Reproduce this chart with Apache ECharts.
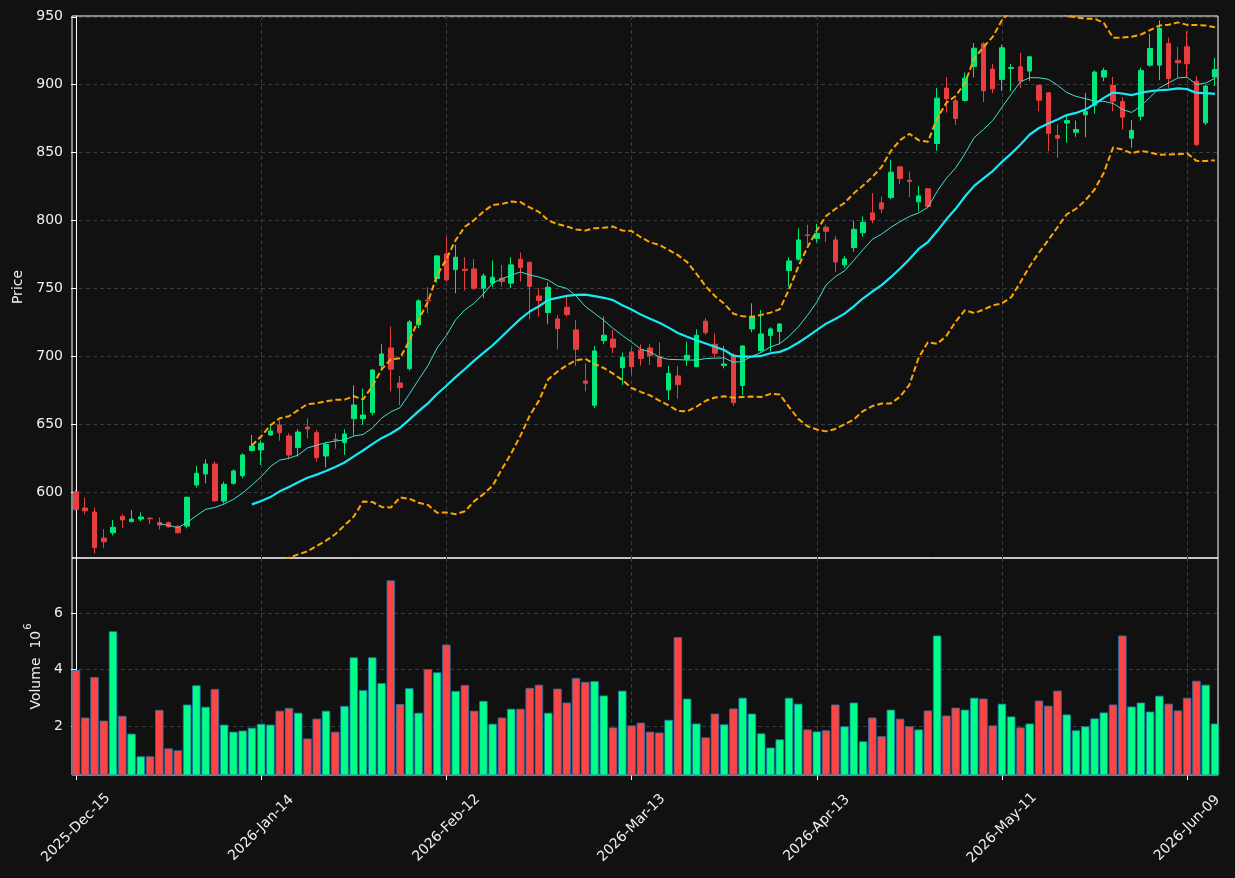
<!DOCTYPE html>
<html>
<head>
<meta charset="utf-8">
<script src="https://cdn.jsdelivr.net/npm/echarts@6/dist/echarts.min.js"></script>
<style>
  html, body { margin: 0; padding: 0; background: #111111; }
  #chart { width: 1235px; height: 878px; }
</style>
</head>
<body>
<div id="chart"></div>
<script>
// trading days shown on the x axis
const dates = [
  "2025-Dec-15","2025-Dec-16","2025-Dec-17","2025-Dec-18","2025-Dec-19","2025-Dec-22","2025-Dec-23","2025-Dec-24","2025-Dec-26",
  "2025-Dec-29","2025-Dec-30","2025-Dec-31","2026-Jan-02","2026-Jan-05","2026-Jan-06","2026-Jan-07","2026-Jan-08","2026-Jan-09",
  "2026-Jan-12","2026-Jan-13","2026-Jan-14","2026-Jan-15","2026-Jan-16","2026-Jan-20","2026-Jan-21","2026-Jan-22","2026-Jan-23",
  "2026-Jan-26","2026-Jan-27","2026-Jan-28","2026-Jan-29","2026-Jan-30","2026-Feb-02","2026-Feb-03","2026-Feb-04","2026-Feb-05",
  "2026-Feb-06","2026-Feb-09","2026-Feb-10","2026-Feb-11","2026-Feb-12","2026-Feb-13","2026-Feb-17","2026-Feb-18","2026-Feb-19",
  "2026-Feb-20","2026-Feb-23","2026-Feb-24","2026-Feb-25","2026-Feb-26","2026-Feb-27","2026-Mar-02","2026-Mar-03","2026-Mar-04",
  "2026-Mar-05","2026-Mar-06","2026-Mar-09","2026-Mar-10","2026-Mar-11","2026-Mar-12","2026-Mar-13","2026-Mar-16","2026-Mar-17",
  "2026-Mar-18","2026-Mar-19","2026-Mar-20","2026-Mar-23","2026-Mar-24","2026-Mar-25","2026-Mar-26","2026-Mar-27","2026-Mar-30",
  "2026-Mar-31","2026-Apr-01","2026-Apr-02","2026-Apr-06","2026-Apr-07","2026-Apr-08","2026-Apr-09","2026-Apr-10","2026-Apr-13",
  "2026-Apr-14","2026-Apr-15","2026-Apr-16","2026-Apr-17","2026-Apr-20","2026-Apr-21","2026-Apr-22","2026-Apr-23","2026-Apr-24",
  "2026-Apr-27","2026-Apr-28","2026-Apr-29","2026-Apr-30","2026-May-01","2026-May-04","2026-May-05","2026-May-06","2026-May-07",
  "2026-May-08","2026-May-11","2026-May-12","2026-May-13","2026-May-14","2026-May-15","2026-May-18","2026-May-19","2026-May-20",
  "2026-May-21","2026-May-22","2026-May-26","2026-May-27","2026-May-28","2026-May-29","2026-Jun-01","2026-Jun-02","2026-Jun-03",
  "2026-Jun-04","2026-Jun-05","2026-Jun-08","2026-Jun-09","2026-Jun-10","2026-Jun-11","2026-Jun-12"
];

const opens = [
  600.2,588.2,585.3,566.1,570.0,582.1,578.1,580.1,580.8,577.6,577.6,574.4,574.9,605.2,613.3,620.6,593.4,606.4,612.0,630.5,
  631.0,642.0,649.4,641.3,632.7,647.9,643.7,626.5,638.8,636.4,654.0,654.0,658.5,693.1,706.1,680.3,690.9,723.1,741.5,757.2,
  775.4,763.8,764.1,764.3,750.1,753.8,757.5,753.8,771.5,769.2,744.4,732.2,727.5,736.1,719.4,681.8,663.9,711.5,712.7,691.6,
  703.2,704.6,706.1,699.7,675.2,685.5,697.8,692.4,725.8,708.8,693.1,701.0,678.4,720.1,704.2,715.2,718.2,763.1,771.5,789.4,
  786.7,795.0,785.7,767.3,780.0,790.9,805.6,813.0,816.9,839.5,829.7,813.7,823.3,856.7,897.5,888.1,888.4,913.4,930.1,911.5,
  903.9,912.0,913.2,910.0,899.4,894.0,862.6,871.7,865.0,877.8,884.9,905.6,899.4,887.6,860.6,876.8,914.4,914.4,930.4,917.9,
  927.9,902.6,871.9,905.6
];
const closes = [
  587.2,586.2,559.0,563.4,574.0,579.4,580.1,581.6,580.3,575.7,574.4,570.0,596.1,613.8,620.6,593.6,605.7,615.5,627.3,633.9,
  635.9,645.0,643.7,627.3,644.2,646.4,625.3,635.1,638.3,642.7,664.1,656.7,689.9,701.7,690.4,676.9,725.3,740.8,740.8,773.9,
  756.2,772.9,763.1,750.1,759.2,758.2,755.0,767.3,765.3,751.3,741.0,750.8,720.4,730.7,705.1,680.1,703.9,715.5,706.6,699.2,
  692.4,698.3,700.5,692.4,687.4,679.1,700.7,715.5,717.4,702.2,694.3,665.8,707.6,729.2,716.4,720.1,723.8,770.2,785.7,788.9,
  790.6,792.0,769.5,771.7,793.5,798.7,800.4,808.5,835.6,830.9,828.7,818.1,810.3,890.1,889.6,875.1,904.8,926.9,895.5,897.0,
  927.2,912.7,902.6,920.6,888.6,864.1,860.6,873.6,867.0,880.3,909.3,910.5,887.9,876.1,866.3,910.5,926.7,941.4,904.6,916.1,
  915.4,856.0,899.0,911.2
];
const lows = [
  586.2,583.5,554.8,559.0,568.0,573.2,578.1,578.6,576.2,572.5,573.7,569.5,573.2,603.2,606.4,592.6,591.6,605.4,610.1,629.8,
  619.9,641.5,637.8,624.1,626.0,639.5,622.4,618.2,631.9,627.3,641.5,649.4,656.5,689.9,674.2,664.1,689.4,720.6,731.7,754.3,
  755.0,746.4,748.4,748.9,742.7,750.8,751.3,750.1,755.0,727.2,729.2,723.6,705.1,729.2,692.9,674.2,661.7,708.8,702.2,678.9,
  686.0,693.1,693.6,692.1,667.8,668.8,692.9,691.9,715.7,699.2,691.1,663.4,671.5,717.7,702.7,703.4,709.1,751.3,770.5,782.0,
  783.7,784.0,762.0,765.0,777.0,788.0,798.0,805.4,815.7,826.7,817.2,806.6,809.0,851.3,879.5,870.4,887.6,905.3,887.2,893.8,
  895.3,895.3,897.5,902.6,880.5,851.0,846.1,857.2,861.6,861.4,878.6,902.6,880.5,867.0,853.5,873.6,913.2,903.4,897.7,905.1,
  905.0,854.7,870.2,899.0
];
const highs = [
  602.0,596.0,588.7,572.7,579.4,583.5,586.7,585.0,581.0,581.3,578.1,575.7,596.6,619.2,624.1,622.4,607.6,616.7,628.5,642.0,
  638.0,648.6,652.6,643.2,646.2,654.3,645.7,635.9,643.2,646.2,678.6,676.1,690.4,708.8,721.8,685.5,726.8,742.0,750.8,774.6,
  788.2,782.0,772.9,771.5,761.1,770.5,767.3,772.9,776.4,769.7,750.1,754.3,730.4,744.4,726.7,694.8,707.6,729.2,719.4,702.7,
  706.5,708.8,709.1,710.3,692.9,692.9,710.8,719.9,728.2,716.9,707.6,702.2,708.0,739.0,734.1,721.3,724.3,772.9,794.3,796.8,
  797.5,797.0,788.6,774.0,800.0,803.0,820.1,817.6,844.7,840.2,836.1,825.5,823.8,897.5,905.6,890.1,909.0,930.6,931.4,915.4,
  929.5,915.4,923.5,921.0,899.9,894.5,870.7,877.8,873.6,894.0,910.5,912.5,905.8,890.8,873.9,912.5,937.5,947.3,934.6,927.9,
  939.5,906.3,900.2,919.8
];
// volume in millions of shares
const volumes = [
  3.98,2.30,3.73,2.19,5.35,2.36,1.73,0.93,0.93,2.57,1.21,1.14,2.76,3.44,2.68,3.31,2.05,1.80,1.84,1.94,
  2.08,2.05,2.54,2.64,2.47,1.56,2.26,2.54,1.80,2.71,4.43,3.27,4.43,3.52,7.15,2.78,3.34,2.47,4.01,3.90,
  4.88,3.24,3.45,2.54,2.89,2.08,2.30,2.61,2.61,3.35,3.46,2.47,3.32,2.83,3.70,3.56,3.59,3.08,1.95,3.25,
  2.02,2.12,1.80,1.77,2.22,5.14,2.97,2.09,1.60,2.44,2.06,2.62,3.00,2.44,1.74,1.24,1.53,3.00,2.79,1.88,
  1.81,1.85,2.76,1.99,2.83,1.46,2.30,1.64,2.58,2.26,1.99,1.88,2.55,5.20,2.37,2.65,2.58,3.00,2.97,2.02,
  2.79,2.34,1.95,2.09,2.90,2.72,3.25,2.41,1.85,1.99,2.27,2.48,2.76,5.20,2.69,2.83,2.51,3.07,2.79,2.55,
  3.00,3.60,3.46,2.09
];

const xTicks = [0, 20, 40, 60, 80, 100, 120];
const priceTicks = [600, 650, 700, 750, 800, 850, 900, 950];
const volumeTicks = [2, 4, 6];

const UP = '#00e77c', DOWN = '#e73f3f';
const VOL_UP = '#00ff88', VOL_DOWN = '#ff4444';
const GRID_LINE = { show: true, lineStyle: { color: '#3c3c3c', type: [4, 3], width: 1 } };
const TEXT = '#f0f0f0';

// simple moving average and bollinger bands from the closes
function sma(values, n) {
  const out = [];
  for (let i = n - 1; i < values.length; i++) {
    let s = 0;
    for (let j = i - n + 1; j <= i; j++) s += values[j];
    out.push([i, s / n]);
  }
  return out;
}
function bollinger(values, n, k) {
  const upper = [], lower = [];
  for (let i = n - 1; i < values.length; i++) {
    let s = 0;
    for (let j = i - n + 1; j <= i; j++) s += values[j];
    const m = s / n;
    let v = 0;
    for (let j = i - n + 1; j <= i; j++) v += (values[j] - m) * (values[j] - m);
    const sd = Math.sqrt(v / (n - 1));
    upper.push([i, m + k * sd]);
    lower.push([i, m - k * sd]);
  }
  return { upper, lower };
}

const candles = dates.map((d, i) => [i, opens[i], closes[i], lows[i], highs[i]]);
const volBars = volumes.map((v, i) => ({
  value: [i, v],
  itemStyle: { color: closes[i] >= opens[i] ? VOL_UP : VOL_DOWN }
}));
const ma10 = sma(closes, 10);
const ma20 = sma(closes, 20);
const bb = bollinger(closes, 20, 2);

const chart = echarts.init(document.getElementById('chart'));

const xBase = {
  type: 'value',
  min: -0.43,
  max: 123.33,
  axisLine: { show: false, onZero: false },
  splitLine: GRID_LINE
};

chart.setOption({
  backgroundColor: '#111111',
  animation: false,
  grid: [
    { left: 72, right: 17, top: 16, height: 542, show: true, borderColor: '#ffffff', borderWidth: 1 },
    { left: 72, right: 17, top: 558, height: 217, show: true, borderColor: '#ffffff', borderWidth: 1 }
  ],
  xAxis: [
    Object.assign({}, xBase, {
      gridIndex: 0,
      axisTick: { show: true, customValues: xTicks, length: 0 },
      axisLabel: { show: false, customValues: xTicks }
    }),
    Object.assign({}, xBase, {
      gridIndex: 1,
      axisTick: { show: true, customValues: xTicks, length: 5, lineStyle: { color: '#ffffff' } },
      axisLabel: {
        customValues: xTicks,
        formatter: v => dates[Math.round(v)],
        rotate: 45,
        align: 'center',
        verticalAlign: 'middle',
        margin: 53,
        color: TEXT,
        fontSize: 14,
        fontFamily: 'DejaVu Sans'
      }
    })
  ],
  yAxis: [
    {
      type: 'value',
      gridIndex: 0,
      min: 551.4,
      max: 950.6,
      scale: true,
      name: 'Price',
      nameLocation: 'middle',
      nameGap: 45,
      nameTextStyle: { color: TEXT, fontSize: 14, fontFamily: 'DejaVu Sans' },
      axisLine: { show: true, lineStyle: { color: '#ffffff' } },
      axisTick: { show: true, customValues: priceTicks, length: 5, lineStyle: { color: '#ffffff' } },
      axisLabel: { customValues: priceTicks, color: TEXT, fontSize: 14, margin: 9, fontFamily: 'DejaVu Sans' },
      splitLine: GRID_LINE
    },
    {
      type: 'value',
      gridIndex: 1,
      min: 0.27,
      max: 7.94,
      scale: true,
      name: '{a|Volume  10}{s|6}',
      nameLocation: 'middle',
      nameGap: 28,
      nameTextStyle: {
        color: TEXT,
        fontFamily: 'DejaVu Sans',
        rich: {
          a: { color: TEXT, fontSize: 14, fontFamily: 'DejaVu Sans', lineHeight: 20, verticalAlign: 'bottom' },
          s: { color: TEXT, fontSize: 10, fontFamily: 'DejaVu Sans', lineHeight: 20, verticalAlign: 'top', padding: [0, 0, 0, 1] }
        }
      },
      axisLine: { show: true, lineStyle: { color: '#ffffff' } },
      axisTick: { show: true, customValues: volumeTicks, length: 5, lineStyle: { color: '#ffffff' } },
      axisLabel: { customValues: volumeTicks, color: TEXT, fontSize: 14, margin: 9, fontFamily: 'DejaVu Sans' },
      splitLine: GRID_LINE
    }
  ],
  series: [
    {
      type: 'candlestick',
      xAxisIndex: 0,
      yAxisIndex: 0,
      data: candles,
      encode: { x: 0, y: [1, 2, 3, 4] },
      barWidth: 5,
      itemStyle: { color: UP, color0: DOWN, borderColor: UP, borderColor0: DOWN, borderWidth: 1 }
    },
    {
      type: 'line', xAxisIndex: 0, yAxisIndex: 0, data: bb.upper,
      symbol: 'none', lineStyle: { color: '#ffa500', width: 2, type: [6, 3] }
    },
    {
      type: 'line', xAxisIndex: 0, yAxisIndex: 0, data: bb.lower,
      symbol: 'none', lineStyle: { color: '#ffa500', width: 2, type: [6, 3] }
    },
    {
      type: 'line', xAxisIndex: 0, yAxisIndex: 0, data: ma20,
      symbol: 'none', lineStyle: { color: '#14eaf8', width: 2.2 }
    },
    {
      type: 'line', xAxisIndex: 0, yAxisIndex: 0, data: ma10,
      symbol: 'none', lineStyle: { color: '#40e0d0', width: 1 }
    },
    {
      type: 'bar',
      xAxisIndex: 1,
      yAxisIndex: 1,
      data: volBars,
      barWidth: 8.4,
      itemStyle: { borderColor: '#1f77b4', borderWidth: 0.8 }
    }
  ]
});
</script>
</body>
</html>
